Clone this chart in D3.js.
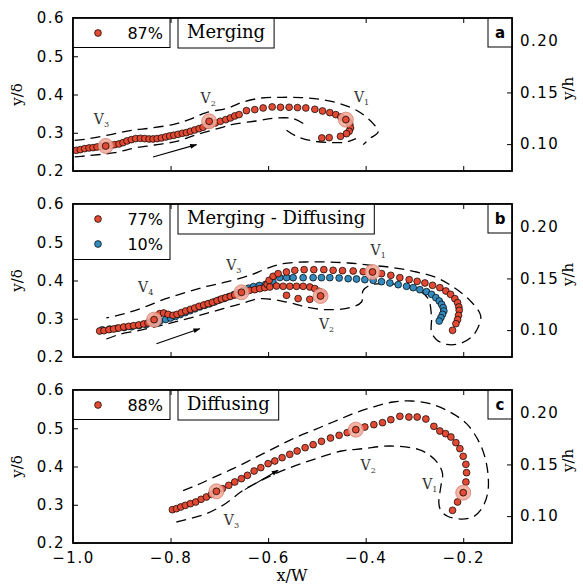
<!DOCTYPE html>
<html><head><meta charset="utf-8">
<script src="https://cdn.jsdelivr.net/npm/d3@7"></script>
<style>body{margin:0;background:#fff}</style>
</head><body><svg id="c" width="583" height="585"></svg>
<script>
// ---------- data ----------
const xDomain = [-1.0, -0.1];
const yDomain = [0.2, 0.6];
const yhDomain = [0.074, 0.222];
const xTicks = [-1.0, -0.8, -0.6, -0.4, -0.2];
const yTicks = [0.2, 0.3, 0.4, 0.5, 0.6];
const yhTicks = [0.10, 0.15, 0.20];
const titles = ["Merging", "Merging - Diffusing", "Diffusing"];
const letters = ["a", "b", "c"];
const aLegend = ["87%"];
const bLegend = ["77%", "10%"];
const cLegend = ["88%"];

const aRed = [[-0.9931,0.2541],[-0.9849,0.2559],[-0.976,0.2585],[-0.9671,0.2602],[-0.9589,0.2611],[-0.9507,0.2628],[-0.9418,0.2646],[-0.935,0.2654],[-0.9282,0.2672],[-0.9213,0.2672],[-0.9145,0.2689],[-0.9056,0.2707],[-0.8974,0.2742],[-0.8892,0.2786],[-0.8803,0.282],[-0.8714,0.2847],[-0.8618,0.2855],[-0.8529,0.2847],[-0.8441,0.2837],[-0.8358,0.2837],[-0.8276,0.2847],[-0.8188,0.2864],[-0.8099,0.289],[-0.8017,0.2916],[-0.7934,0.2934],[-0.7846,0.296],[-0.7757,0.2986],[-0.7675,0.3003],[-0.7593,0.3038],[-0.7504,0.3073],[-0.7415,0.3108],[-0.7333,0.3143],[-0.7251,0.3195],[-0.7162,0.323],[-0.7081,0.3256],[-0.6978,0.33],[-0.6868,0.3343],[-0.6773,0.3387],[-0.6684,0.3439],[-0.6595,0.3474],[-0.6444,0.3578],[-0.6273,0.3605],[-0.6102,0.3648],[-0.5917,0.3675],[-0.5746,0.3666],[-0.5569,0.3666],[-0.5398,0.3657],[-0.5227,0.3648],[-0.5042,0.3613],[-0.4885,0.3569],[-0.4735,0.3526],[-0.4612,0.3474],[-0.4509,0.3413],[-0.4427,0.3369],[-0.4359,0.3299],[-0.4325,0.3221],[-0.4311,0.3125],[-0.4338,0.3038],[-0.4393,0.2977],[-0.4516,0.2907],[-0.4748,0.2872],[-0.4899,0.2864]];
const aVortices = [[-0.9329,0.2654],[-0.7209,0.3299],[-0.4406,0.3343]];
const aLabels = [["3",-0.9418,0.337],["2",-0.723,0.392],["1",-0.4085,0.3935]];
const aEnvOuter = [[-0.9966,0.280],[-0.9657,0.2847],[-0.92,0.296],[-0.8802,0.3064],[-0.8392,0.3124],[-0.7934,0.3221],[-0.7606,0.3352],[-0.7264,0.3527],[-0.682,0.3647],[-0.6513,0.3804],[-0.6135,0.3908],[-0.5725,0.3927],[-0.5315,0.3919],[-0.4939,0.3875],[-0.4529,0.3762],[-0.4154,0.3561],[-0.3846,0.3239],[-0.3744,0.302],[-0.3914,0.2847],[-0.4051,0.269]];
const aEnvInner = [[-0.9966,0.237],[-0.9828,0.2384],[-0.9145,0.2481],[-0.8734,0.2601],[-0.8324,0.268],[-0.7879,0.2776],[-0.7469,0.2952],[-0.6956,0.3135],[-0.675,0.3213],[-0.6252,0.3307],[-0.5889,0.3378],[-0.5487,0.337],[-0.5247,0.3213]];
const aEnvHook = [[-0.5623,0.3064],[-0.5418,0.2907],[-0.5077,0.2784],[-0.47,0.2742],[-0.4392,0.2758],[-0.42,0.2847]];
const aArrow = [[-0.836,0.2366],[-0.7469,0.269]];

const bRed = [[-0.9453,0.268],[-0.9364,0.2689],[-0.9262,0.2715],[-0.9166,0.2732],[-0.9063,0.2758],[-0.8961,0.2784],[-0.8858,0.2802],[-0.8756,0.2819],[-0.8653,0.2837],[-0.855,0.2863],[-0.8462,0.2889],[-0.8373,0.2941],[-0.8338,0.2976],[-0.829,0.3063],[-0.8222,0.3133],[-0.814,0.315],[-0.8051,0.3115],[-0.7949,0.3089],[-0.7867,0.3115],[-0.7778,0.3159],[-0.7689,0.3203],[-0.7593,0.3246],[-0.7504,0.3281],[-0.7415,0.3325],[-0.732,0.3359],[-0.7231,0.3394],[-0.7142,0.3429],[-0.7046,0.3473],[-0.6957,0.3516],[-0.6868,0.3551],[-0.6773,0.3586],[-0.6684,0.3621],[-0.6581,0.3673],[-0.6547,0.3691],[-0.6479,0.3708],[-0.6376,0.3743],[-0.6274,0.376],[-0.6171,0.3787],[-0.6068,0.3813],[-0.602,0.39],[-0.598,0.4004],[-0.5897,0.4109],[-0.5795,0.4179],[-0.5624,0.4222],[-0.5453,0.4266],[-0.5262,0.4283],[-0.5063,0.4283],[-0.4858,0.4283],[-0.4667,0.4266],[-0.4475,0.4257],[-0.4256,0.4248],[-0.4051,0.4231],[-0.386,0.4222],[-0.3675,0.4179],[-0.3484,0.4135],[-0.3299,0.4074],[-0.3108,0.4022],[-0.2944,0.3978],[-0.2786,0.3935],[-0.2629,0.3874],[-0.2479,0.3813],[-0.2356,0.3726],[-0.226,0.3638],[-0.2171,0.3525],[-0.2116,0.342],[-0.2089,0.3307],[-0.2082,0.322],[-0.2096,0.3089],[-0.2116,0.2976],[-0.215,0.2871],[-0.2219,0.2697],[-0.5965,0.383],[-0.5828,0.3856],[-0.5692,0.3848],[-0.5555,0.3848],[-0.5417,0.3848],[-0.5282,0.3848],[-0.5145,0.383],[-0.5042,0.3788],[-0.4954,0.3718],[-0.4872,0.3658],[-0.4925,0.3595],[-0.5145,0.3508],[-0.5385,0.3527],[-0.5623,0.3613]];
const bBlue = [[-0.94,0.271],[-0.925,0.273],[-0.91,0.275],[-0.895,0.277],[-0.88,0.279],[-0.865,0.282],[-0.85,0.285],[-0.835,0.289],[-0.822,0.294],[-0.81,0.298],[-0.8,0.302],[-0.79,0.306],[-0.78,0.311],[-0.77,0.316],[-0.76,0.321],[-0.75,0.326],[-0.74,0.331],[-0.73,0.335],[-0.72,0.339],[-0.71,0.344],[-0.7,0.349],[-0.69,0.353],[-0.68,0.358],[-0.67,0.363],[-0.66,0.368],[-0.65,0.374],[-0.64,0.38],[-0.63,0.384],[-0.618,0.387],[-0.605,0.39],[-0.59,0.396],[-0.576,0.4076],[-0.562,0.4076],[-0.5487,0.4074],[-0.5282,0.4074],[-0.5077,0.4074],[-0.4906,0.4074],[-0.4735,0.4074],[-0.4544,0.4065],[-0.4359,0.4048],[-0.4188,0.4039],[-0.4017,0.4022],[-0.3846,0.4004],[-0.3675,0.3969],[-0.3504,0.3935],[-0.3333,0.3891],[-0.3162,0.3848],[-0.3026,0.3813],[-0.2889,0.376],[-0.2752,0.3708],[-0.265,0.3638],[-0.2561,0.3551],[-0.2492,0.3464],[-0.2444,0.3377],[-0.241,0.329],[-0.2397,0.3203],[-0.2424,0.3115],[-0.2458,0.3028],[-0.2492,0.2941]];
const bVortices = [[-0.8338,0.2976],[-0.6547,0.3691],[-0.386,0.4222],[-0.4925,0.3595]];
const bLabels = [["4",-0.8509,0.383],["3",-0.6704,0.4397],["1",-0.3744,0.4806],["2",-0.4803,0.2854]];
const bEnv = [[-0.9316,0.2471],[-0.9043,0.2593],[-0.8632,0.2697],[-0.8188,0.2828],[-0.7778,0.2959],[-0.7333,0.3115],[-0.6923,0.3264],[-0.6547,0.3394],[-0.6171,0.3525],[-0.5624,0.3438],[-0.5214,0.3307],[-0.4803,0.3237],[-0.4325,0.329],[-0.4085,0.3438],[-0.4051,0.3743],[-0.388,0.3891],[-0.3573,0.3917],[-0.3231,0.3874],[-0.2923,0.3743],[-0.2718,0.3525],[-0.265,0.3046],[-0.265,0.2654],[-0.2547,0.2453],[-0.2342,0.2331],[-0.2068,0.2349],[-0.1829,0.2523],[-0.1692,0.2784],[-0.1644,0.3089],[-0.1863,0.3481],[-0.2205,0.383],[-0.2547,0.4074],[-0.2957,0.4222],[-0.3436,0.4336],[-0.388,0.4397],[-0.4359,0.4458],[-0.4803,0.4484],[-0.5248,0.4484],[-0.5692,0.444],[-0.6034,0.4309],[-0.6376,0.4135],[-0.6855,0.3961],[-0.7231,0.3856],[-0.7655,0.3699],[-0.8099,0.3525],[-0.853,0.3307],[-0.894,0.3133],[-0.9316,0.302]];
const bArrow = [[-0.829,0.2349],[-0.7402,0.2741]];

const cRed = [[-0.7962,0.2871],[-0.788,0.2898],[-0.7791,0.2941],[-0.7696,0.2985],[-0.7593,0.3028],[-0.7484,0.3072],[-0.7374,0.3142],[-0.7265,0.3203],[-0.7162,0.3272],[-0.706,0.3351],[-0.6937,0.342],[-0.6807,0.3508],[-0.6684,0.3595],[-0.6547,0.3682],[-0.6424,0.3769],[-0.6287,0.3882],[-0.615,0.397],[-0.6,0.4074],[-0.5863,0.4144],[-0.5713,0.4231],[-0.5556,0.4318],[-0.5405,0.4405],[-0.5241,0.4492],[-0.5077,0.4571],[-0.4906,0.4658],[-0.4721,0.4745],[-0.4544,0.4815],[-0.4379,0.4885],[-0.4202,0.4963],[-0.4017,0.5033],[-0.3832,0.5094],[-0.3655,0.5146],[-0.3484,0.5224],[-0.3299,0.5312],[-0.3114,0.5294],[-0.2944,0.5294],[-0.2766,0.5242],[-0.2602,0.505],[-0.2479,0.4928],[-0.2362,0.4858],[-0.2253,0.4771],[-0.215,0.4623],[-0.2068,0.4466],[-0.2,0.4266],[-0.1945,0.4057],[-0.1932,0.3839],[-0.1945,0.3595],[-0.2,0.3316],[-0.2116,0.3072],[-0.2219,0.2854]];
const cVortices = [[-0.706,0.3351],[-0.4202,0.4963],[-0.2,0.3316]];
const cLabels = [["3",-0.6752,0.261],["2",-0.3949,0.403],["1",-0.2684,0.3534]];
const cEnv = [[-0.788,0.2549],[-0.7265,0.2767],[-0.6855,0.3046],[-0.6513,0.3377],[-0.6137,0.3638],[-0.5658,0.3917],[-0.5077,0.4179],[-0.4496,0.4405],[-0.4051,0.4466],[-0.3504,0.4536],[-0.2923,0.4449],[-0.2684,0.4292],[-0.2513,0.4074],[-0.2424,0.3813],[-0.245,0.3551],[-0.248,0.33],[-0.25,0.305],[-0.246,0.285],[-0.232,0.27],[-0.205,0.2625],[-0.18,0.268],[-0.162,0.29],[-0.1501,0.329],[-0.1487,0.3725],[-0.1556,0.4248],[-0.1692,0.4684],[-0.1932,0.512],[-0.2274,0.5425],[-0.2684,0.5643],[-0.306,0.5712],[-0.3436,0.5686],[-0.3846,0.5556],[-0.4256,0.5381],[-0.4667,0.5163],[-0.5077,0.4946],[-0.5487,0.4728],[-0.5897,0.4466],[-0.6308,0.4205],[-0.6718,0.3943],[-0.7128,0.3708],[-0.747,0.3508],[-0.7778,0.3351]];
const cArrow = [[-0.6478,0.3396],[-0.5795,0.39]];

// ---------- styles ----------
const RED = "#E24A33", BLUE = "#348ABD";
const SANS = "DejaVu Sans", SERIF = "DejaVu Serif";
const X0 = 73, X1 = 512, PH = 153;
const tops = [18, 204, 390];

const panels = [
  {series:[{pts:aRed,color:RED}], legend:aLegend.map((l,i)=>({label:l,color:[RED][i]})), vort:aVortices, labels:aLabels, env:[aEnvOuter,aEnvInner,aEnvHook], arrow:aArrow},
  {series:[{pts:bBlue,color:BLUE},{pts:bRed,color:RED}], legend:bLegend.map((l,i)=>({label:l,color:[RED,BLUE][i]})), vort:bVortices, labels:bLabels, env:[bEnv], arrow:bArrow},
  {series:[{pts:cRed,color:RED}], legend:cLegend.map((l,i)=>({label:l,color:[RED][i]})), vort:cVortices, labels:cLabels, env:[cEnv], arrow:cArrow}
];

const svg = d3.select("#c");
const x = d3.scaleLinear().domain(xDomain).range([X0, X1]);

const defs = svg.append("defs");
defs.append("marker").attr("id","arr").attr("viewBox","0 0 10 10").attr("refX",9).attr("refY",5)
  .attr("markerWidth",9).attr("markerHeight",7).attr("markerUnits","userSpaceOnUse").attr("orient","auto")
  .append("path").attr("d","M0,1.5 L10,5 L0,8.5 Z").attr("fill","#000");

panels.forEach((p, i) => {
  const top = tops[i];
  const y = d3.scaleLinear().domain(yDomain).range([top + PH, top]);
  const yh = d3.scaleLinear().domain(yhDomain).range([top + PH, top]);
  const g = svg.append("g");
  defs.append("clipPath").attr("id","clip"+i).append("rect").attr("x",X0).attr("y",top).attr("width",X1-X0).attr("height",PH);
  const plot = g.append("g").attr("clip-path","url(#clip"+i+")");

  const line = d3.line().x(d=>x(d[0])).y(d=>y(d[1])).curve(d3.curveCatmullRom.alpha(0.5));
  p.env.forEach(e => plot.append("path").attr("d", line(e)).attr("fill","none")
    .attr("stroke","#000").attr("stroke-width",1.3).attr("stroke-dasharray","10,6"));

  plot.append("line").attr("x1",x(p.arrow[0][0])).attr("y1",y(p.arrow[0][1]))
    .attr("x2",x(p.arrow[1][0])).attr("y2",y(p.arrow[1][1]))
    .attr("stroke","#000").attr("stroke-width",1.1).attr("marker-end","url(#arr)");

  p.series.forEach(s => {
    plot.append("g").selectAll("circle").data(s.pts).join("circle")
      .attr("cx",d=>x(d[0])).attr("cy",d=>y(d[1])).attr("r",3.4)
      .attr("fill",s.color).attr("stroke","#000").attr("stroke-width",0.7);
  });

  plot.selectAll("circle.v").data(p.vort).join("circle").attr("class","v")
    .attr("cx",d=>x(d[0])).attr("cy",d=>y(d[1])).attr("r",7.5)
    .attr("fill","#F4A89A").attr("fill-opacity",0.88).attr("stroke","#d08070").attr("stroke-width",0.8);
  plot.selectAll("circle.vc").data(p.vort).join("circle").attr("class","vc")
    .attr("cx",d=>x(d[0])).attr("cy",d=>y(d[1])).attr("r",3.4)
    .attr("fill",RED).attr("stroke","#000").attr("stroke-width",0.7);

  p.labels.forEach(l => {
    const t = plot.append("text").attr("x",x(l[1])).attr("y",y(l[2])+5)
      .attr("text-anchor","middle").attr("font-family",SERIF).attr("font-size",14).attr("fill","#333");
    t.append("tspan").text("V");
    t.append("tspan").attr("font-size",8).attr("dy",3).text(l[0]);
  });

  // frame
  g.append("rect").attr("x",X0).attr("y",top).attr("width",X1-X0).attr("height",PH)
    .attr("fill","none").attr("stroke","#000").attr("stroke-width",1.5);

  // axes (ticks inward)
  const tickStyle = sel => { sel.select(".domain").remove(); sel.selectAll("line").attr("stroke-width",1);
    sel.selectAll("text").attr("font-family",SANS).attr("font-size",15).attr("letter-spacing","1.5px").attr("fill","#000"); };
  g.append("g").attr("transform",`translate(${X0},0)`)
    .call(d3.axisLeft(y).tickValues(yTicks).tickSize(-5).tickPadding(8).tickFormat(d3.format(".1f"))).call(tickStyle);
  g.append("g").attr("transform",`translate(${X1},0)`)
    .call(d3.axisRight(yh).tickValues(yhTicks).tickSize(-5).tickPadding(8).tickFormat(d3.format(".2f"))).call(tickStyle);
  g.append("g").attr("transform",`translate(0,${top})`)
    .call(d3.axisTop(x).tickValues(xTicks).tickSize(-5).tickFormat("")).call(tickStyle);
  g.append("g").attr("transform",`translate(0,${top+PH})`)
    .call(d3.axisBottom(x).tickValues(xTicks).tickSize(-5).tickPadding(9).tickFormat(i===2 ? d3.format(".1f") : "")).call(tickStyle);

  // axis labels
  g.append("text").attr("transform",`translate(22,${top+PH/2}) rotate(-90)`).attr("text-anchor","middle")
    .attr("font-family",SERIF).attr("font-size",15).text("y/δ");
  g.append("text").attr("transform",`translate(573,${top+PH/2-6}) rotate(-90)`).attr("text-anchor","middle")
    .attr("font-family",SERIF).attr("font-size",15).text("y/h");

  // legend box
  const lh = 15 + 25*(p.legend.length-1) + 15;
  g.append("rect").attr("x",X0).attr("y",top).attr("width",97).attr("height",lh - (p.legend.length>1?-0.5:0.5))
    .attr("fill","#fff").attr("stroke","#000").attr("stroke-width",1);
  p.legend.forEach((e,k) => {
    const cy = top + 15 + 25*k;
    g.append("circle").attr("cx",X0+25).attr("cy",cy).attr("r",3.4).attr("fill",e.color).attr("stroke","#000").attr("stroke-width",0.7);
    g.append("text").attr("x",X0+90).attr("y",cy+6).attr("text-anchor","end")
      .attr("font-family",SANS).attr("font-size",16).text(e.label);
  });

  // title box
  const tt = g.append("text").attr("y",top+20).attr("font-family",SERIF).attr("font-size",18).text(titles[i]);
  const w = tt.node().getComputedTextLength();
  tt.attr("x",178+9);
  g.insert("rect", () => tt.node()).attr("x",178).attr("y",top).attr("width",w+18).attr("height",30)
    .attr("fill","#fff").attr("stroke","#000").attr("stroke-width",1);

  // letter box
  g.append("rect").attr("x",488).attr("y",top).attr("width",24).attr("height",29)
    .attr("fill","#fff").attr("stroke","#000").attr("stroke-width",1);
  g.append("text").attr("x",500).attr("y",top+20).attr("text-anchor","middle")
    .attr("font-family",SANS).attr("font-weight","bold").attr("font-size",15).text(letters[i]);
  g.append("rect").attr("x",X0).attr("y",top).attr("width",X1-X0).attr("height",PH)
    .attr("fill","none").attr("stroke","#000").attr("stroke-width",1.5);
});

svg.append("text").attr("x",292).attr("y",581).attr("text-anchor","middle")
  .attr("font-family",SERIF).attr("font-size",16).text("x/W");
</script></body></html>
